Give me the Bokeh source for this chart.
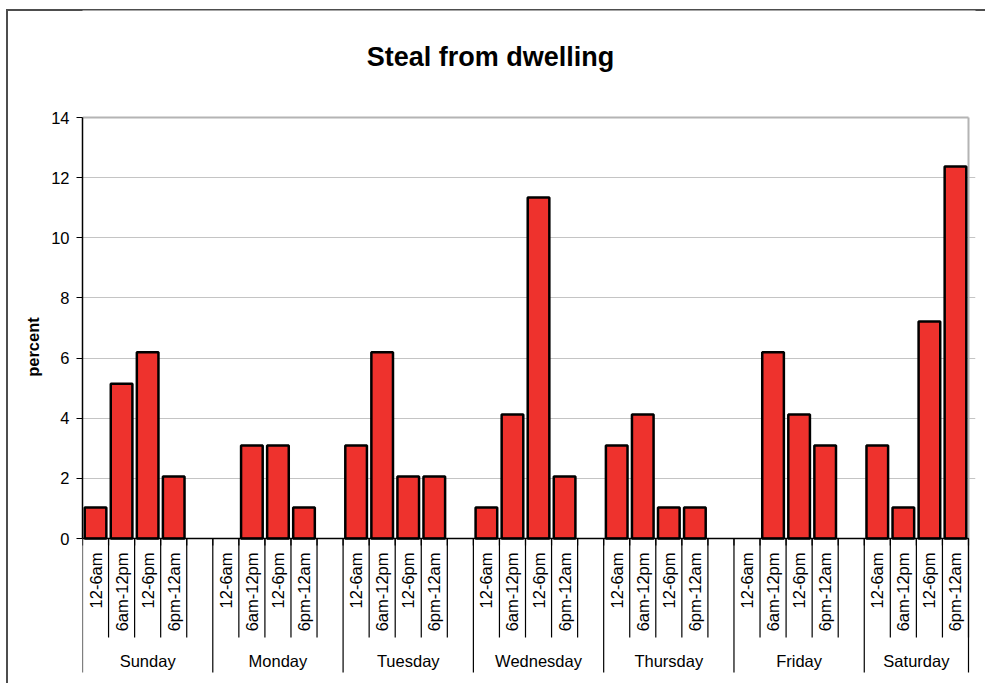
from bokeh.plotting import figure
from bokeh.models import Range1d, FixedTicker
from bokeh.core.properties import value
from bokeh.embed import file_html
from bokeh.resources import INLINE

# ---------------- data ----------------
title_text = "Steal from dwelling"
y_label = "percent"
days = ["Sunday", "Monday", "Tuesday", "Wednesday", "Thursday", "Friday", "Saturday"]
periods = ["12-6am", "6am-12pm", "12-6pm", "6pm-12am"]
sunday = [1.03, 5.15, 6.19, 2.06]
monday = [0.0, 3.09, 3.09, 1.03]
tuesday = [3.09, 6.19, 2.06, 2.06]
wednesday = [1.03, 4.12, 11.34, 2.06]
thursday = [3.09, 4.12, 1.03, 1.03]
friday = [0.0, 6.19, 4.12, 3.09]
saturday = [3.09, 1.03, 7.22, 12.37]
y_ticks = [0, 2, 4, 6, 8, 10, 12, 14]

series = [sunday, monday, tuesday, wednesday, thursday, friday, saturday]

# ---------------- layout (page pixels) ----------------
FONT = "Liberation Sans"
W, H = 985, 683
OX, OY = 6, 9  # top-left corner of the chart border
FRAME_LEFT, PLOT_RIGHT, FRAME_RIGHT = 82, 968, 975
FRAME_TOP, PLOT_TOP, PLOT_BOTTOM, FRAME_BOTTOM = 10, 117, 538, 683

group = len(periods) + 1
n_slots = len(days) * group - 1
slot_px = (PLOT_RIGHT - FRAME_LEFT) / n_slots
ymin, ymax = y_ticks[0], y_ticks[-1]
ppu = (PLOT_BOTTOM - PLOT_TOP) / (ymax - ymin)

x_range = Range1d(0, (FRAME_RIGHT - FRAME_LEFT) / slot_px)
y_range = Range1d(ymin - (FRAME_BOTTOM - PLOT_BOTTOM) / ppu,
                  ymax + (PLOT_TOP - FRAME_TOP) / ppu)

p = figure(frame_width=FRAME_RIGHT - FRAME_LEFT, frame_height=FRAME_BOTTOM - FRAME_TOP,
           x_range=x_range, y_range=y_range, x_axis_location=None,
           output_backend="svg", toolbar_location=None, title=None,
           min_border_left=FRAME_LEFT - OX, min_border_right=W - FRAME_RIGHT,
           min_border_top=FRAME_TOP - OY, min_border_bottom=H - FRAME_BOTTOM)
p.margin = (OY, 0, 0, OX)
p.extra_x_ranges = {"px": Range1d(FRAME_LEFT, FRAME_RIGHT)}
p.extra_y_ranges = {"px": Range1d(FRAME_BOTTOM, FRAME_TOP)}
p.outline_line_color = None
p.background_fill_color = "white"
p.border_fill_color = None
# outer chart border: top and left edges (right/bottom lie outside the page)
p.styles = {"box-shadow": "inset 2px 0 0 0 #4d4d4d, inset 0 2px 0 0 #4d4d4d"}

# y axis
ax = p.yaxis[0]
ax.bounds = (ymin, ymax)
ax.ticker = FixedTicker(ticks=y_ticks)
ax.major_tick_out = 6
ax.major_tick_in = 0
ax.minor_tick_out = 0
ax.minor_tick_in = 0
ax.axis_line_color = "black"
ax.axis_line_width = 1.5
ax.major_tick_line_color = "black"
ax.major_tick_line_width = 1.2
ax.major_label_standoff = 7
ax.major_label_text_font = FONT
ax.major_label_text_font_size = "16.5px"
ax.major_label_text_color = "black"
ax.axis_label = y_label
ax.axis_label_text_font = FONT
ax.axis_label_text_font_style = "bold"
ax.axis_label_text_font_size = "16.5px"
ax.axis_label_text_color = "black"
ax.axis_label_standoff = 6

p.xgrid.visible = False
p.ygrid.ticker = FixedTicker(ticks=y_ticks[1:-1])
p.ygrid.bounds = (ymin, ymax)
p.ygrid.grid_line_color = "#c4c4c4"
p.ygrid.grid_line_width = 1

# plot area border (top and right, gray)
p.segment(x0=[0, n_slots], y0=[ymax, ymin], x1=[n_slots, n_slots], y1=[ymax, ymax],
          line_color="#b4b4b4", line_width=2)

# bars (zero values leave no visible bar)
bx, btop = [], []
for d, vals in enumerate(series):
    for k, v in enumerate(vals):
        if v > 0:
            bx.append(d * group + k + 0.5)
            btop.append(v)
p.vbar(x=bx, top=btop, bottom=0, width=0.83, fill_color="#ee322d",
       line_color="black", line_width=2.5)

# x axis line
p.segment(x0=[0], y0=[0], x1=[n_slots], y1=[0], line_color="black", line_width=1.5)

# tick marks at every slot boundary
bounds_all = list(range(n_slots + 1))
p.segment(x0=bounds_all, x1=bounds_all, y0=[PLOT_BOTTOM] * len(bounds_all),
          y1=[PLOT_BOTTOM + 7] * len(bounds_all), y_range_name="px",
          line_color="black", line_width=1.2)

# sub-category separators and labels
mid_x, long_x = [], []
lab_x, lab_t = [], []
day_x = []
for d, day in enumerate(days):
    s = d * group
    long_x.append(s)
    for k, per in enumerate(periods):
        mid_x.append(s + k + 1)
        lab_x.append(s + k + 0.5)
        lab_t.append(per)
    day_x.append((s + min(s + group, n_slots)) / 2)
long_x.append(n_slots)

p.segment(x0=mid_x, x1=mid_x, y0=[PLOT_BOTTOM] * len(mid_x), y1=[637] * len(mid_x),
          y_range_name="px", line_color="black", line_width=1.2)
p.segment(x0=long_x, x1=long_x, y0=[PLOT_BOTTOM] * len(long_x), y1=[672] * len(long_x),
          y_range_name="px", line_color="black", line_width=1.2)

p.text(x=lab_x, y=[552] * len(lab_x), text=lab_t, y_range_name="px", angle=1.5707963,
       text_align="right", text_baseline="middle", text_font=value(FONT),
       text_font_size="16.5px", text_color="black")
p.text(x=day_x, y=[660] * len(day_x), text=days, y_range_name="px",
       text_align="center", text_baseline="middle", text_font=value(FONT),
       text_font_size="16.5px", text_color="black")

# title
p.text(x=[490], y=[56], text=[title_text], x_range_name="px", y_range_name="px",
       text_align="center", text_baseline="alphabetic", text_font=value(FONT),
       text_font_style="bold", text_font_size="27px", text_color="black")

open("out.html", "w").write(file_html(p, INLINE))
